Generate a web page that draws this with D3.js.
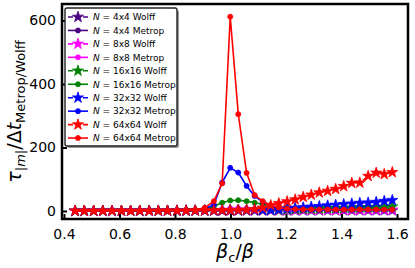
<!DOCTYPE html>
<html>
<head>
<meta charset="utf-8">
<script src="https://cdn.jsdelivr.net/npm/d3@7"></script>
<style>
body { margin:0; background:#fff; }
svg { display:block; font-family:"DejaVu Sans", sans-serif; }
.tick text { font-size:14px; fill:#000; }
.legtext { font-size:9px; }
</style>
</head>
<body>
<div id="chart"></div>
<script>
// beta_c / beta grid
var xVals = [0.440,0.473,0.507,0.540,0.573,0.607,0.640,0.673,0.707,0.740,0.773,0.807,0.840,0.873,0.907,0.940,
    0.970,0.999,1.028,1.058,1.087,1.116,1.145,1.174,1.204,1.233,1.262,1.291,1.320,1.350,1.379,1.408,1.437,1.466,1.496,1.525,1.554,1.583];

var wolff4  = [0.3,0.3,0.3,0.4,0.4,0.4,0.5,0.5,0.5,0.6,0.6,0.7,0.7,0.8,0.9,1.0,1.0,1.1,1.1,1.1,1.2,1.2,1.2,1.3,1.3,1.3,1.4,1.4,1.4,1.5,1.5,1.5,1.6,1.6,1.6,1.7,1.7,1.7];
var metrop4 = [0.3,0.3,0.3,0.3,0.4,0.4,0.4,0.5,0.5,0.6,0.7,0.8,0.9,1.1,1.4,1.8,2.2,2.5,2.5,2.4,2.2,2.0,1.9,1.8,1.7,1.7,1.6,1.6,1.6,1.5,1.5,1.5,1.5,1.5,1.5,1.5,1.5,1.5];
var wolff8  = [0.3,0.3,0.4,0.4,0.4,0.5,0.5,0.5,0.6,0.6,0.7,0.7,0.8,0.9,1.0,1.1,1.2,1.3,1.4,1.5,1.7,1.8,2.0,2.1,2.3,2.4,2.5,2.7,2.8,2.9,3.0,3.1,3.2,3.3,3.4,3.5,3.6,3.7];
var metrop8 = [0.3,0.3,0.3,0.4,0.4,0.4,0.5,0.5,0.6,0.7,0.8,0.9,1.1,1.5,2.3,4.0,6.5,8.5,8.8,8.0,6.8,5.5,4.6,4.0,3.6,3.4,3.2,3.1,3.0,3.0,2.9,2.9,2.9,2.8,2.8,2.8,2.8,2.8];
var wolff16  = [0.3,0.3,0.4,0.4,0.4,0.5,0.5,0.6,0.6,0.7,0.8,0.9,1.0,1.1,1.3,1.5,1.7,2.0,2.2,2.5,2.8,3.1,3.5,4.0,4.6,5.3,6.0,6.6,7.3,8.0,8.6,9.3,10.0,10.6,11.3,12.0,12.8,13.6];
var metrop16 = [0.3,0.3,0.3,0.4,0.4,0.5,0.5,0.6,0.7,0.8,1.0,1.3,1.8,3.0,6.5,15,26,33,34,31,26,21,16,12,10,9,8.5,8.2,8,8,7.8,7.8,7.6,7.6,7.5,7.5,7.5,7.5];
var wolff32  = [0.3,0.3,0.4,0.4,0.4,0.5,0.5,0.6,0.6,0.7,0.8,0.9,1.0,1.1,1.3,1.5,1.8,2.1,2.3,2.5,2.8,3.2,4.0,5.0,7.5,9.5,11,13,15,17,19,21,23,25,26,28,31,34];
var metrop32 = [0.3,0.3,0.3,0.4,0.4,0.5,0.5,0.6,0.7,0.8,1.0,1.3,1.8,3.0,7,20,90,136,121,79,47,29,14,8,5.5,4.5,4,3.8,3.6,3.5,3.4,3.4,3.3,3.3,3.3,3.2,3.2,3.2];
var wolff64  = [0.3,0.3,0.4,0.4,0.4,0.5,0.5,0.6,0.6,0.7,0.8,0.9,1.0,1.2,1.4,1.7,2.0,2.4,2.8,3.3,5,10,18,24,30,36,44,51,58,63,69,78,88,89,110,120,116,122];
var metrop64 = [0.3,0.3,0.3,0.4,0.4,0.5,0.5,0.6,0.7,0.8,1.0,1.3,2.0,3.5,10,31,87,612,305,120,50,31,19,11,7,5.5,5,4.8,4.6,4.5,4.4,4.4,4.3,4.3,4.3,4.2,4.2,4.2];

var sizes  = ["4x4","8x8","16x16","32x32","64x64"];
var colors = ["#4b0082","#ff00ff","#008000","#0000ff","#ff0000"];
var xTicks = [0.4,0.6,0.8,1.0,1.2,1.4,1.6];
var yTicks = [0,200,400,600];

var series = [
    {size:0, kind:"Wolff",  vals:wolff4},
    {size:0, kind:"Metrop", vals:metrop4},
    {size:1, kind:"Wolff",  vals:wolff8},
    {size:1, kind:"Metrop", vals:metrop8},
    {size:2, kind:"Wolff",  vals:wolff16},
    {size:2, kind:"Metrop", vals:metrop16},
    {size:3, kind:"Wolff",  vals:wolff32},
    {size:3, kind:"Metrop", vals:metrop32},
    {size:4, kind:"Wolff",  vals:wolff64},
    {size:4, kind:"Metrop", vals:metrop64}
];

var W = 415, H = 268;
var plot = {left:62, right:408, top:4, bottom:219};

var svg = d3.select("#chart").append("svg")
    .attr("width",W).attr("height",H);

var x = d3.scaleLinear().domain([0.3928,1.6396]).range([plot.left,plot.right]);
var y = d3.scaleLinear().domain([-25.2,652]).range([plot.bottom,plot.top]);

var defs = svg.append("defs");
defs.append("clipPath").attr("id","clip")
    .append("rect")
    .attr("x",plot.left).attr("y",plot.top)
    .attr("width",plot.right-plot.left).attr("height",plot.bottom-plot.top);

var line = d3.line()
    .x(function(d){ return x(d[0]); })
    .y(function(d){ return y(d[1]); });

var star = d3.symbol().type(d3.symbolStar).size(38);
var dot  = d3.symbol().type(d3.symbolCircle).size(20);

var dataLayer = svg.append("g").attr("clip-path","url(#clip)");

series.forEach(function(s){
    var pts = xVals.map(function(v,i){ return [v, s.vals[i]]; });
    var col = colors[s.size];
    var g = dataLayer.append("g");
    g.append("path")
        .datum(pts)
        .attr("d",line)
        .attr("fill","none")
        .attr("stroke",col)
        .attr("stroke-width",1.6)
        .attr("stroke-dasharray", s.kind=="Wolff" ? "6,2.6" : null);
    g.selectAll("path.m")
        .data(pts)
        .enter().append("path")
        .attr("class","m")
        .attr("d", s.kind=="Wolff" ? star : dot)
        .attr("transform",function(d){ return "translate(" + x(d[0]) + "," + y(d[1]) + ")"; })
        .attr("fill",col)
        .attr("stroke",col)
        .attr("stroke-width",0.8);
});

// axes, ticks point inward
var xAxis = svg.append("g")
    .attr("transform","translate(0," + plot.bottom + ")")
    .call(d3.axisBottom(x).tickValues(xTicks).tickSize(-5).tickPadding(10).tickFormat(d3.format(".1f")));
var yAxis = svg.append("g")
    .attr("transform","translate(" + plot.left + ",0)")
    .call(d3.axisLeft(y).tickValues(yTicks).tickSize(-5).tickPadding(6).tickFormat(d3.format("d")));

[xAxis,yAxis].forEach(function(a){
    a.select(".domain").remove();
    a.selectAll(".tick line").attr("stroke","#000").attr("stroke-width",2);
    a.selectAll(".tick text").attr("font-family","DejaVu Sans");
});

svg.append("rect")
    .attr("x",plot.left).attr("y",plot.top)
    .attr("width",plot.right-plot.left).attr("height",plot.bottom-plot.top)
    .attr("fill","none").attr("stroke","#000").attr("stroke-width",2.5);

// legend
var leg = {x:65, y:8, w:112, h:138, row:13.45};
var legend = svg.append("g");
legend.append("rect")
    .attr("x",leg.x+2).attr("y",leg.y+2).attr("width",leg.w).attr("height",leg.h)
    .attr("fill","#999").attr("rx",2);
legend.append("rect")
    .attr("x",leg.x).attr("y",leg.y).attr("width",leg.w).attr("height",leg.h)
    .attr("fill","#fff").attr("stroke","#222").attr("stroke-width",1.4).attr("rx",2);

series.forEach(function(s,i){
    var col = colors[s.size];
    var ly = leg.y + 9 + i*leg.row;
    legend.append("line")
        .attr("x1",leg.x+3).attr("x2",leg.x+23).attr("y1",ly).attr("y2",ly)
        .attr("stroke",col).attr("stroke-width",1.6)
        .attr("stroke-dasharray", s.kind=="Wolff" ? "5,2.5" : null);
    legend.append("path")
        .attr("d", s.kind=="Wolff" ? star : dot)
        .attr("transform","translate(" + (leg.x+13) + "," + ly + ")")
        .attr("fill",col).attr("stroke",col).attr("stroke-width",0.8);
    var t = legend.append("text")
        .attr("class","legtext")
        .attr("x",leg.x+28).attr("y",ly+3.3);
    t.append("tspan").attr("font-style","italic").text("N");
    t.append("tspan").text(" = " + sizes[s.size] + " " + s.kind);
});

// axis labels
var xl = svg.append("text")
    .attr("x",(plot.left+plot.right)/2).attr("y",258)
    .attr("text-anchor","middle")
    .style("font-size","19px");
xl.append("tspan").attr("font-style","italic").text("β");
xl.append("tspan").attr("dy",4).style("font-size","13px").text("c");
xl.append("tspan").attr("dy",-4).text("/");
xl.append("tspan").attr("font-style","italic").text("β");

var yl = svg.append("text")
    .attr("transform","translate(21," + ((plot.top+plot.bottom)/2) + ") rotate(-90)")
    .attr("text-anchor","middle")
    .style("font-size","19px");
yl.append("tspan").attr("font-style","italic").text("τ");
yl.append("tspan").attr("dy",4).style("font-size","13px").text("|");
yl.append("tspan").style("font-size","13px").attr("font-style","italic").text("m");
yl.append("tspan").style("font-size","13px").text("|");
yl.append("tspan").attr("dy",-4).text("/Δ");
yl.append("tspan").attr("font-style","italic").text("t");
yl.append("tspan").attr("dy",4).style("font-size","13px").text("Metrop/Wolff");
</script>
</body>
</html>
